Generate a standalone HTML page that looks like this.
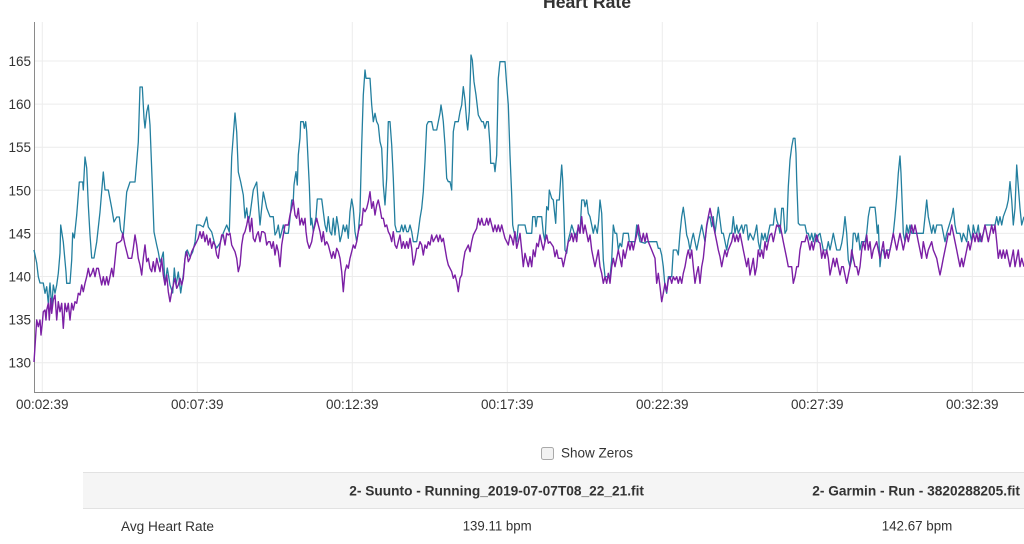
<!DOCTYPE html>
<html>
<head>
<meta charset="utf-8">
<style>
  html,body{margin:0;padding:0;background:#fff;}
  svg{display:block;}
  text{font-family:"Liberation Sans",Arial,sans-serif;}
</style>
</head>
<body>
<svg width="1024" height="544" viewBox="0 0 1024 544" xmlns="http://www.w3.org/2000/svg">
  <rect width="1024" height="544" fill="#fff"/>
  <!-- title (cut off at top) -->
  <text x="543" y="8" font-size="17.5" font-weight="bold" fill="#333" textLength="88" lengthAdjust="spacingAndGlyphs">Heart Rate</text>

  <!-- gridlines -->
  <g stroke="#ececec" stroke-width="1">
    <line x1="34" y1="61" x2="1024" y2="61"/>
    <line x1="34" y1="104.1" x2="1024" y2="104.1"/>
    <line x1="34" y1="147.2" x2="1024" y2="147.2"/>
    <line x1="34" y1="190.3" x2="1024" y2="190.3"/>
    <line x1="34" y1="233.4" x2="1024" y2="233.4"/>
    <line x1="34" y1="276.5" x2="1024" y2="276.5"/>
    <line x1="34" y1="319.6" x2="1024" y2="319.6"/>
    <line x1="34" y1="362.7" x2="1024" y2="362.7"/>
    <line x1="42.3" y1="22" x2="42.3" y2="392"/>
    <line x1="197.3" y1="22" x2="197.3" y2="392"/>
    <line x1="352.3" y1="22" x2="352.3" y2="392"/>
    <line x1="507.3" y1="22" x2="507.3" y2="392"/>
    <line x1="662.3" y1="22" x2="662.3" y2="392"/>
    <line x1="817.3" y1="22" x2="817.3" y2="392"/>
    <line x1="972.3" y1="22" x2="972.3" y2="392"/>
  </g>

  <!-- axes -->
  <line x1="34.5" y1="22" x2="34.5" y2="393" stroke="#8a8a8a" stroke-width="1"/>
  <line x1="34" y1="392.5" x2="1024" y2="392.5" stroke="#8a8a8a" stroke-width="1"/>

  <!-- y labels -->
  <g font-size="13.5" fill="#333" text-anchor="end">
    <text x="31" y="66">165</text>
    <text x="31" y="109.1">160</text>
    <text x="31" y="152.2">155</text>
    <text x="31" y="195.3">150</text>
    <text x="31" y="238.4">145</text>
    <text x="31" y="281.5">140</text>
    <text x="31" y="324.6">135</text>
    <text x="31" y="367.7">130</text>
  </g>
  <!-- x labels -->
  <g font-size="13.5" fill="#333" text-anchor="middle">
    <text x="42.3" y="409">00:02:39</text>
    <text x="197.3" y="409">00:07:39</text>
    <text x="352.3" y="409">00:12:39</text>
    <text x="507.3" y="409">00:17:39</text>
    <text x="662.3" y="409">00:22:39</text>
    <text x="817.3" y="409">00:27:39</text>
    <text x="972.3" y="409">00:32:39</text>
  </g>

  <!-- blue series -->
  <polyline fill="none" stroke="#237f9f" stroke-width="1.3" stroke-linejoin="round" points="
34,250 36.7,263 38.3,276.7 40,283 43.3,283 45,293.3 46.7,286.7 48.3,303.3 50,283 51.7,306.7 53.3,285 55,293.3 56.7,285 58.3,273.3 60,253 60.7,225 63.3,242 66,272 66.7,283.3 70,283.3 71.7,260 72.7,233 74.3,238 76.7,215 79.3,182 82.7,182 83.3,190 85,157 86.7,168 88.3,205 90,235 91.7,258 94,258 96.7,242 100,212 103.3,172 105,190 108.3,190 111.7,208 114,222 116.7,217 119.3,217 120.7,230 123.3,235 126.7,192 130,182 135,182 136.7,162 138.3,142 140,87 142.3,87 144,118 145,128 146.7,112 148.3,105 150,125 152.3,185 154,232 156.7,245 158.3,252 160,262 161.7,258 163.3,252 165,285 167.3,268 170,285 172.7,293 174.3,268 176,285 178.3,272 180.7,293 183.3,275 185.7,252 187.3,250 190,257 192.7,252 195,242 196.7,225 200,225 203.3,227 206.7,217 208.3,227 211.7,232 215,245 216.7,248 220,243 223.3,233 226.7,225 229.3,232 231.7,157 235,113 236.7,132 238.3,172 240.7,182 243.3,195 245,218 246.7,208 248.3,222 250,215 253.3,190 256.7,182 260,225 263.3,192 266.7,208
270,216.7 273.3,216.7 275,235 276.7,231.7 278.3,225 280,238 281.7,231.7 283.3,225 285,233.3 288.3,233.3 290,218.3 291.7,200 293.3,200 294,185 295,178 296,171.7 297.3,185 298.3,155 300,138 300.7,121.7 303.3,121.7 304.3,128.3 305.7,121.7 306.7,131.7 308.3,165 309.3,185 310.7,225 311.7,218.3 313.3,231.7 316,216.7 317.3,199 321.7,199 323.3,211.7 325,225 326.7,231.7 328.3,216.7 330,231.7 331.7,235 333.3,218.3 335,235 336.7,216.7 338.3,226.7 340,241.7 341.7,235 343.3,225 345,231.7 346.7,225 348.3,238.3 350,211.7 351.7,199 353.3,208.3 355,231.7 356.7,241.7 358.3,231.7 360,211.7 361.7,145 363.3,95 365,70 366,78.3 370,78.3 371.7,105 373.3,121.7 375,113.3 376.7,121.7 378.3,125 380,141.7 381.7,148.3 383.3,185 385,205 386.7,178.3 388.3,121.7 390,121.7 391.7,145 393.3,178.3 395,225 396.7,231.7 400,231.7 401.7,225 403.3,231.7 405,225 406.7,231.7 408.3,231.7 410,225 411.7,231.7 413.3,241.7 416.7,241.7 418.3,231.7 420,218.3 421.7,208.3 423.3,191.7 425,161.7 426.7,125 428.3,121.7 431.7,121.7 433.3,130 436.7,130 438.3,121.7 440,113.3 441,105 442.3,113.3 443.3,121.7 445,145 446.7,178.3 448.3,181.7 450,181.7 451.7,190 453.3,131.7 455,121.7 458.3,121.7 460,111.7 461.7,105 463.3,86.7 465,100 466.7,121.7 467.7,130 469.3,111.7 471,55 472.3,60 474,81.7 476,95 478.3,115 481.7,121.7 483.3,121.7 485,128.3 486.7,121.7 488.3,121.7 490,145 490.7,163.3 494,163.3 495,171.7 496.7,155 498.3,78.3 500,61.7 505,61.7 506.7,85 508.3,105 510,155 511.7,195 512.7,225 514,231.7 516.7,241.7 518.3,225
520,225 525,225 526.7,233.3 531.7,233.3 532.7,216.7 535,216.7 536,226.7 537.3,216.7 541.7,216.7 543.3,233.3 545,241.7 546.7,206.7 548.3,210 549.3,190 551.7,198.3 553.3,200 554.3,210 555.7,223.3 556.7,200 559.3,200 560.7,178.3 561.7,165 562.7,180 564,216.7 565,250 566.7,253.3 568.3,240 570,233.3 571.7,225 573.3,230 575,236.7 576.7,233.3 578.3,226.7 580,233.3 581.7,200 584,200 585,206.7 586.7,200 588.3,213.3 590,216.7 591.7,225 593.3,233.3 595,225 597.3,233.3 598.7,220 600,200 601.7,213.3 603.3,260 605,276.7 610,276.7 611.7,260 613.3,225 615,233.3 616.7,233.3 618.3,250 620,243.3 621.7,246.7 623.3,233.3 628.3,233.3 629.3,241.7 635,241.7 636.7,225 638.3,233.3 640,241.7 645,243.3 646.7,241.7 656.7,241.7 658.3,248.3 660,248.3 661.7,255 663.3,266.7 665,286.7 666.7,293.3 668.3,276.7 671.7,276.7 673.3,250 676.7,250 678.3,255 680,233.3 681.7,216.7 683.3,207.3 685,220 686.7,235 688.3,240 690,250 691.7,240 693.3,233.3 695,241.7 696.7,250 700,233.3 701.7,225 703.3,233.3 705,241.7 706.7,226.7 708.3,218.3 710,216.7 711.7,226.7 713.3,216.7 715,233.3 716.7,220 718.3,207.3 720,220 721.7,233.3 723.3,233.3 726.7,250 728.3,240 730,233.3 731.7,233.3 733.3,216.7 735,233.3 736.7,225 738.3,233.3 741.7,225 743.3,233.3 745,225 746.7,225 748.3,240 750,233.3 753.3,240 755,233.3 756.7,225 758.3,241.7 760,250 761.7,233.3 763.3,240 765,233.3 766.7,241.7 768.3,233.3
770,225 773.3,225 775,208.3 776.7,220 778.3,225 780,233.3 781.7,208.3 783.3,208.3 785,233.3 786.7,230 788.3,186.7 790,160 791.7,146.7 793.3,138.3 795,138.3 796,153.3 796.7,180 798.3,223.3 800,225 805,225 806.7,233.3 808.3,233.3 810,240 811.7,233.3 813.3,241.7 815,233.3 816.7,241.7 818.3,235 820,233.3 821.7,241.7 823.3,250 826.7,250 828.3,241.7 830,250 831.7,241.7 833.3,233.3 835,241.7 836.7,250 840,250 841.7,243.3 843.3,233.3 845,216.7 846.7,233.3 848.3,260 850,266.7 851.7,260 853.3,233.3 855,233.3 856.7,241.7 858.3,233.3 860,250 861.7,241.7 865,241.7 866.7,233.3 868.3,216.7 870,207.3 875,207.3 876,216.7 877.3,233.3 878.3,225 880,266.7 881.7,250 883.3,250 885,258.3 886.7,250 890,250 891.7,241.7 893.3,233.3 895,216.7 896.7,196.7 898.3,173.3 900,156 901,173.3 902.3,206.7 903.3,233.3 905,241.7 906.7,225 908.3,233.3 910,225 911.7,233.3 913.3,233.3 923.3,233.3 925,216.7 926.7,200 928.3,216.7 930,225 931.7,233.3 933.3,225 935,233.3 936.7,225 941.7,225 943.3,233.3 945,241.7 946.7,233.3 951.7,216.7 953.3,208.3 955,225 956.7,233.3 960,233.3 961.7,241.7 963.3,233.3 966.7,241.7 968.3,225 970,233.3 971.7,241.7 973.3,225 975,233.3 976.7,233.3 978.3,225 980,241.7 983.3,233.3 985,225 995,225 996.7,216.7 998.3,225 1000,216.7 1001.7,225 1003.3,216.7 1006.7,207.3 1008.3,200 1010,181.7 1011.7,200 1013.3,225 1015,208.3 1016.7,165 1018.3,186.7 1020,208.3 1021.7,225 1024,216.7"/>

  <!-- purple series -->
  <polyline fill="none" stroke="#7b1fa5" stroke-width="1.4" stroke-linejoin="round" points="
34,362 35,346.7 36.7,320 38.3,326.7 40,320 41,335 42.3,323.3 43.3,311.7 45,310 46,320 46.7,310 48.3,303.3 49.3,320 50.7,298.3 51.7,313.3 53.3,300 55,295 56.7,320 58.3,301.7 60,311.7 61.7,303.3 63.3,328.3 65,303.3 66.7,311.7 68.3,303.3 70,320 71.7,303.3 73.3,310 75,301.7 76.7,303.3 78.3,293.3 80,295 81.7,285 83.3,291.7 85,283.3 86.7,276.7 88.3,268.3 90,276.7 91.7,273.3 93.3,268.3 95,276.7 96.7,268.3 98.3,268.3 100,276.7 101.7,285 103.3,276.7 105,285 106.7,276.7 108.3,285 110,276.7 111.7,268.3 113.3,276.7 115,260 116.7,243.3 120,241.7 121.7,240
122.7,233.3 125,245 126.7,251.7 128.3,258.3 131.7,258.3 133.3,248.3 135,235 136.7,245 138.3,258.3 140,265 141.7,275 143.3,258.3 145,245 146.7,261.7 148.3,258.3 150,268.3 151.7,271.7 153.3,261.7 155,271.7 156.7,258.3 158.3,265 160,271.7 161.7,258.3 163.3,275 165,285 166.7,275 168.3,291.7 170,301.7 171.7,291.7 173.3,285 175,278.3 176.7,288.3 178.3,285 180,278.3 181.7,285 183.3,278.3 185,258.3 186.7,251.7 188.3,261.7 190,258.3 191.7,251.7 193.3,248.3 195,245 196.7,241.7 198.3,238.3 200,231.7 201.7,238.3 203.3,231.7 205,241.7 206.7,235 208.3,245 210,238.3 211.7,248.3 213.3,241.7 215,245 216.7,255 218.3,258.3 220,245 221.7,235 223.3,235 225,245 226.7,233.3 228.3,235 230,233.3 231.7,245 233.3,248.3 235,251.7 236.7,258.3 238.3,271.7 240,265 241.7,245 243.3,235 245,231.7 246.7,225 248.3,216.7 250,231.7 251.7,218.3 253.3,238.3 255,241.7 256.7,235 258.3,231.7 260,241.7 261.7,231.7 263.3,231.7 265,233.3 266.7,245 268.3,241.7
270,241.7 271.7,248.3 273.3,241.7 275,255 276.7,245 278.3,251.7 280,266.7 281.7,245 283.3,235 285,225 288.3,225 290,215 291.7,208.3 293.3,200 295,215 296.7,218.3 298.3,208.3 300,225 301.7,218.3 303.3,225 305,218.3 306,231.7 307.3,241.7 309.3,248.3 311.7,241.7 313.3,231.7 316.7,218.3 318.3,225 320,231.7 321.7,241.7 323.3,231.7 325,245 326.7,241.7 328.3,245 330,251.7 331.7,258.3 333.3,251.7 335,258.3 336.7,248.3 338.3,251.7 340,258.3 341.7,271.7 343.3,291.7 345,271.7 346.7,265 348.3,268.3 350,258.3 351.7,251.7 353.3,245 355,248.3 356.7,241.7 358.3,231.7 360,225 361.7,225 363.3,208.3 365,211.7 366.7,208.3 368.3,201.7 370,191.7 371.7,208.3 373.3,201.7 375,215 376.7,205 378.3,200 380,208.3 381.7,218.3 383.3,218.3 385,226.7 386.7,225 388.3,231.7 390,235 391.7,241.7 393.3,231.7 395,245 396.7,248.3 398.3,241.7 400,235 401.7,248.3 403.3,241.7 405,248.3 406.7,241.7 408.3,248.3 410,238.3 411.7,248.3 413.3,265 415,258.3 416.7,248.3 418.3,248.3 420,241.7 421.7,245 423.3,255 425,245 426.7,248.3 428.3,241.7 430,245 431.7,235 433.3,241.7 435,238.3 436.7,235 438.3,241.7 440,235 441.7,241.7 443.3,238.3 445,248.3 446.7,258.3 448.3,265 450,268.3 451.7,271.7 453.3,278.3 455,275 456.7,281.7 458.3,291.7 460,278.3 461.7,275 463.3,261.7 465,251.7 466.7,248.3 468.3,245 470,251.7 471.7,241.7 473.3,235 475,231.7 476.7,228.3 478.3,218.3 480,225 481.7,218.3 483.3,225 485,225 486.7,218.3 488.3,225 490,218.3 491.7,225 493.3,231.7 495,225 496.7,231.7 498.3,225 500,231.7 501.7,225 503.3,231.7 505,238.3 506.7,241.7 508.3,245 510,235 511.7,238.3 513.3,245 515,231.7 516.7,248.3 518.3,241.7
520,233.3 521.7,250 523.3,266.7 525,253.3 526.7,260 528.3,266.7 530,256.7 531.7,266.7 533.3,250 535,256.7 536.7,243.3 538.3,246.7 540,235 541.7,243.3 543.3,250 545,241.7 546.7,235 548.3,243.3 550,241.7 553.3,246.7 555,256.7 556.7,250 558.3,258.3 561.7,258.3 563.3,266.7 565,258.3 566.7,250 568.3,241.7 570,240 571.7,233.3 573.3,241.7 575,233.3 576.7,241.7 578.3,225 580,233.3 581.7,216.7 583.3,233.3 585,225 586.7,233.3 588.3,241.7 590,235 591.7,250 593.3,258.3 595,266.7 596.7,258.3 598.3,250 600,266.7 601.7,273.3 603.3,283.3 605,276.7 606.7,283.3 608.3,273.3 610,283.3 611.7,266.7 613.3,258.3 615,266.7 616.7,258.3 618.3,250 620,258.3 621.7,266.7 623.3,250 625,258.3 626.7,250 628.3,241.7 630,250 631.7,241.7 633.3,250 635,241.7 636.7,235 638.3,225 640,235 641.7,241.7 643.3,233.3 645,241.7 646.7,233.3 648.3,241.7 651.7,250 655,258.3 656.7,283.3 658.3,273.3 660,286.7 661.7,301.7 663.3,293.3 665,283.3 666.7,291.7 668.3,280 670,276.7 671.7,283.3 673.3,276.7 675,280 676.7,276.7 678.3,283.3 680,276.7 681.7,283.3 683.3,273.3 685,266.7 686.7,256.7 688.3,250 690,258.3 691.7,250 693.3,266.7 695,283.3 696.7,273.3 698.3,266.7 700,283.3 701.7,266.7 703.3,258.3 705,241.7 706.7,225 708.3,216.7 710,208.3 711.7,216.7 713.3,225 715,233.3 716.7,241.7 718.3,250 720,256.7 721.7,266.7 723.3,258.3 725,250 726.7,256.7 728.3,250 731.7,241.7 733.3,233.3 735,241.7 736.7,235 738.3,241.7 740,233.3 741.7,241.7 743.3,250 745,258.3 746.7,266.7 748.3,258.3 750,275 751.7,266.7 753.3,258.3 755,275 756.7,266.7 758.3,250 760,256.7 761.7,250 763.3,258.3 765,241.7 766.7,250 768.3,241.7 770,235
771.7,233.3 773.3,241.7 775,233.3 776.7,225 778.3,226.7 780,225 781.7,233.3 783.3,241.7 785,250 786.7,258.3 788.3,266.7 791.7,266.7 793.3,283.3 795,276.7 796.7,266.7 798.3,266.7 800,250 801.7,241.7 805,241.7 806.7,235 808.3,241.7 810,250 811.7,241.7 813.3,250 815,241.7 816.7,235 818.3,241.7 820,243.3 821.7,258.3 823.3,250 825,258.3 826.7,250 828.3,258.3 830,275 831.7,266.7 833.3,258.3 835,266.7 836.7,258.3 838.3,266.7 840,275 841.7,266.7 843.3,266.7 845,275 846.7,283.3 848.3,275 850,266.7 851.7,250 853.3,258.3 855,266.7 856.7,266.7 858.3,275 860,266.7 861.7,250 863.3,241.7 865,250 866.7,235 868.3,250 870,241.7 871.7,258.3 873.3,250 876.7,241.7 878.3,250 880,258.3 881.7,250 883.3,241.7 885,258.3 886.7,250 888.3,258.3 890,250 891.7,241.7 893.3,233.3 895,241.7 896.7,250 898.3,241.7 900,233.3 901.7,241.7 903.3,250 905,241.7 906.7,233.3 908.3,241.7 910,233.3 911.7,225 913.3,233.3 915,225 916.7,233.3 918.3,241.7 920,250 921.7,258.3 923.3,241.7 925,250 926.7,258.3 928.3,250 931.7,241.7 933.3,250 936.7,258.3 938.3,266.7 940,275 941.7,266.7 943.3,258.3 945,250 946.7,241.7 948.3,233.3 950,235 951.7,225 953.3,233.3 955,241.7 956.7,250 958.3,258.3 960,266.7 961.7,258.3 963.3,266.7 965,258.3 966.7,250 968.3,241.7 970,250 971.7,241.7 973.3,233.3 975,241.7 976.7,233.3 978.3,241.7 980,233.3 981.7,241.7 983.3,233.3 985,225 986.7,233.3 988.3,241.7 990,233.3 991.7,225 993.3,233.3 995,225 996.7,241.7 998.3,258.3 1000,250 1001.7,258.3 1003.3,250 1005,258.3 1006.7,250 1008.3,258.3 1010,266.7 1011.7,258.3 1013.3,250 1015,266.7 1016.7,258.3 1018.3,250 1020,266.7 1021.7,258.3 1024,266.7"/>

  <!-- Show Zeros checkbox -->
  <rect x="541.5" y="447.5" width="12" height="12" rx="2" ry="2" fill="#f2f2f2" stroke="#a9a9a9" stroke-width="1"/>
  <text x="561" y="457.5" font-size="13.5" fill="#333" textLength="72" lengthAdjust="spacingAndGlyphs">Show Zeros</text>

  <!-- table header -->
  <rect x="83" y="472" width="941" height="36" fill="#f5f5f5"/>
  <line x1="83" y1="472.5" x2="1024" y2="472.5" stroke="#e2e2e2" stroke-width="1"/>
  <line x1="83" y1="508.5" x2="1024" y2="508.5" stroke="#e2e2e2" stroke-width="1"/>
  <text x="349.3" y="495.7" font-size="14" font-weight="bold" fill="#333" textLength="294.7" lengthAdjust="spacingAndGlyphs">2- Suunto - Running_2019-07-07T08_22_21.fit</text>
  <text x="812.3" y="495.7" font-size="14" font-weight="bold" fill="#333" textLength="207.7" lengthAdjust="spacingAndGlyphs">2- Garmin - Run - 3820288205.fit</text>

  <!-- table row -->
  <text x="121" y="531" font-size="13.5" fill="#333" textLength="93" lengthAdjust="spacingAndGlyphs">Avg Heart Rate</text>
  <text x="462.7" y="530.5" font-size="14" fill="#333" textLength="69" lengthAdjust="spacingAndGlyphs">139.11 bpm</text>
  <text x="881.7" y="530.5" font-size="14" fill="#333" textLength="70.6" lengthAdjust="spacingAndGlyphs">142.67 bpm</text>
</svg>
</body>
</html>
